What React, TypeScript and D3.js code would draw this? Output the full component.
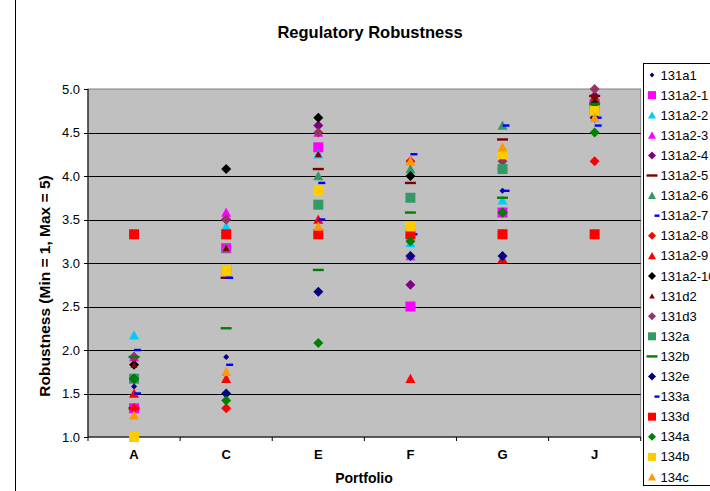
import React from "react";
import * as d3 from "d3";

// portfolios on the x axis
const categories = ["A", "C", "E", "F", "G", "J"];
const yTicks = [1.0, 1.5, 2.0, 2.5, 3.0, 3.5, 4.0, 4.5, 5.0];

// robustness per portfolio (A, C, E, F, G, J)
const v131a1 = [1.58, 1.92, 4.25, 3.08, 3.83, 4.83];
const v131a2_1 = [1.33, 3.17, 4.33, 2.5, 3.58, 4.83];
const v131a2_2 = [2.17, 3.42, 4.25, 3.23, 3.72, 4.83];
const v131a2_3 = [1.92, 3.58, 4.5, 3.08, 3.58, 4.83];
const v131a2_4 = [1.92, 3.5, 4.58, 2.75, 3.58, 4.92];
const v131a2_5 = [1.33, 2.83, 4.08, 3.92, 4.42, 4.92];
const v131a2_6 = [1.67, 3.17, 4.0, 4.08, 4.58, 4.83];
const v131a2_7 = [2.0, 1.83, 3.92, 4.25, 4.58, 4.58];
const v131a2_8 = [1.33, 1.33, 3.33, 4.17, 3.33, 4.17];
const v131a2_9 = [1.5, 1.67, 3.5, 1.67, 3.05, 4.9];
const v131a2_10 = [1.83, 4.08, 4.67, 4.0, 4.08, 4.83];
const v131d2 = [1.83, 3.17, 4.25, 4.17, 4.33, 4.92];
const v131d3 = [1.92, 3.5, 4.5, 3.42, 4.17, 5.0];
const v132a = [1.67, 2.92, 3.67, 3.75, 4.08, 4.75];
const v132b = [1.92, 2.25, 2.92, 3.58, 3.75, 4.83];
const v132e = [1.67, 1.5, 2.67, 3.08, 3.08, 4.67];
const v133a = [1.5, 2.83, 3.5, 3.33, 3.83, 4.67];
const v133d = [3.33, 3.33, 3.33, 3.33, 3.33, 3.33];
const v134a = [1.67, 1.42, 2.08, 3.25, 3.58, 4.5];
const v134b = [1.0, 2.92, 3.83, 3.42, 4.25, 4.75];
const v134c = [1.25, 1.75, 3.42, 4.17, 4.33, 4.67];

const seriesNames = [
  "131a1", "131a2-1", "131a2-2", "131a2-3", "131a2-4", "131a2-5", "131a2-6",
  "131a2-7", "131a2-8", "131a2-9", "131a2-10", "131d2", "131d3", "132a",
  "132b", "132e", "133a", "133d", "134a", "134b", "134c",
];
const seriesValues = [
  v131a1, v131a2_1, v131a2_2, v131a2_3, v131a2_4, v131a2_5, v131a2_6,
  v131a2_7, v131a2_8, v131a2_9, v131a2_10, v131d2, v131d3, v132a,
  v132b, v132e, v133a, v133d, v134a, v134b, v134c,
];

// excel-ish marker per series
const markers = [
  { shape: "diamond", color: "#000080", size: 6 },
  { shape: "square", color: "#FF00FF", size: 10 },
  { shape: "triangle", color: "#00CCFF", size: 10 },
  { shape: "triangle", color: "#FF00FF", size: 10 },
  { shape: "diamond", color: "#800080", size: 10 },
  { shape: "dash", color: "#800000", size: 11 },
  { shape: "triangle", color: "#339966", size: 10 },
  { shape: "shortDash", color: "#0000FF", size: 7 },
  { shape: "diamond", color: "#FF0000", size: 10 },
  { shape: "triangle", color: "#FF0000", size: 10 },
  { shape: "diamond", color: "#000000", size: 10 },
  { shape: "triangle", color: "#800000", size: 7 },
  { shape: "diamond", color: "#993366", size: 10 },
  { shape: "square", color: "#339966", size: 10 },
  { shape: "dash", color: "#008000", size: 11 },
  { shape: "diamond", color: "#000080", size: 10 },
  { shape: "shortDash", color: "#0000FF", size: 7 },
  { shape: "square", color: "#FF0000", size: 10 },
  { shape: "diamond", color: "#008000", size: 10 },
  { shape: "square", color: "#FFCC00", size: 10 },
  { shape: "triangle", color: "#FF9900", size: 10 },
];

const font = "'Liberation Sans', Arial, sans-serif";

function markerPath(shape: string, s: number) {
  const h = s / 2;
  if (shape === "square") return `M${-h},${-h}h${s}v${s}h${-s}Z`;
  if (shape === "diamond") return `M0,${-h}L${h},0L0,${h}L${-h},0Z`;
  if (shape === "triangle") return `M0,${-h}L${h},${h * 0.85}L${-h},${h * 0.85}Z`;
  if (shape === "dash") return `M${-h},-1.2h${s}v2.4h${-s}Z`;
  return `M0,-1.2h${s}v2.4h${-s}Z`; // short dash sits right of centre
}

export default function App() {
  const left = 88, right = 640.7, top = 89, bottom = 437;
  const x = d3.scaleBand().domain(categories).range([left, right]);
  const y = d3.scaleLinear().domain([1, 5]).range([bottom, top]);
  const bw = x.bandwidth();
  const cx = (c: string) => (x(c) as number) + bw / 2;

  const legendX = 643.5, legendY = 63.5, rowH = 20.1;

  return (
    <svg width={710} height={491} style={{ position: "absolute", left: 0, top: 0, background: "#fff" }}
      fontFamily={font}>
      <line x1={15.5} x2={15.5} y1={0} y2={491} stroke="#000" />
      <text x={370} y={38} textAnchor="middle" fontWeight="bold" fontSize={16.5}>Regulatory Robustness</text>

      {/* plot area */}
      <rect x={left} y={top} width={right - left} height={bottom - top} fill="#C0C0C0" stroke="#808080" />
      {yTicks.slice(1, -1).map(t => (
        <line key={t} x1={left} x2={right} y1={Math.round(y(t)) + 0.5} y2={Math.round(y(t)) + 0.5} stroke="#000" />
      ))}
      <line x1={left} x2={left} y1={top} y2={bottom} stroke="#000" />
      <line x1={left} x2={right} y1={bottom} y2={bottom} stroke="#000" />

      {/* y axis */}
      {yTicks.map(t => (
        <g key={t}>
          <line x1={left - 4} x2={left} y1={Math.round(y(t)) + 0.5} y2={Math.round(y(t)) + 0.5} stroke="#000" />
          <text x={80} y={y(t)} dy="0.35em" textAnchor="end" fontSize={13}>{d3.format(".1f")(t)}</text>
        </g>
      ))}
      <text transform={`translate(50,286) rotate(-90)`} textAnchor="middle" fontWeight="bold" fontSize={15.5}>
        Robustness (Min = 1, Max = 5)
      </text>

      {/* x axis */}
      {[...categories.map(c => x(c) as number), right].map((t, i) => (
        <line key={i} x1={t} x2={t} y1={bottom} y2={bottom + 4} stroke="#000" />
      ))}
      {categories.map(c => (
        <text key={c} x={cx(c)} y={459} textAnchor="middle" fontWeight="bold" fontSize={13}>{c}</text>
      ))}
      <text x={364} y={483} textAnchor="middle" fontWeight="bold" fontSize={14}>Portfolio</text>

      {/* points */}
      {seriesValues.map((vals, si) => (
        <g key={seriesNames[si]}>
          {vals.map((v, ci) => (
            <path key={ci} transform={`translate(${cx(categories[ci])},${y(v)})`}
              d={markerPath(markers[si].shape, markers[si].size)} fill={markers[si].color} />
          ))}
        </g>
      ))}

      {/* legend */}
      <rect x={legendX} y={legendY} width={80} height={422} fill="#fff" stroke="#000" />
      {seriesNames.map((name, i) => {
        const ly = 75 + i * rowH;
        const m = markers[i];
        const s = m.shape === "dash" || m.shape === "shortDash" ? m.size : m.size * 0.8;
        const mx = m.shape === "shortDash" ? 654.5 : 652;
        return (
          <g key={name}>
            <path transform={`translate(${mx},${ly})`} d={markerPath(m.shape, m.shape === "dash" ? 11 : m.shape === "shortDash" ? 5 : s)} fill={m.color} />
            <text x={660.5} y={ly + 4.5} fontSize={13}>{name}</text>
          </g>
        );
      })}
    </svg>
  );
}
